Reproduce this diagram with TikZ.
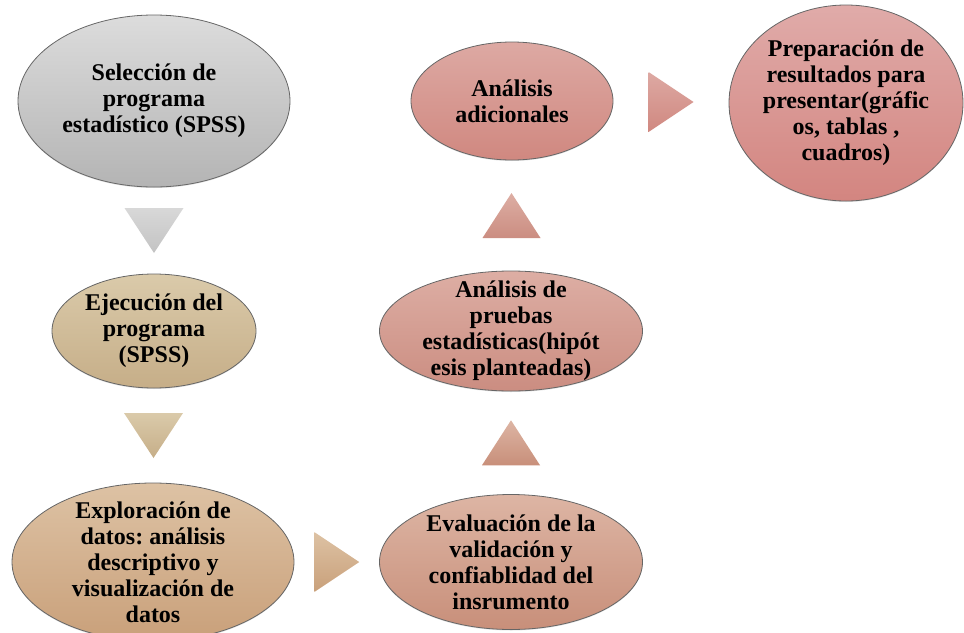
\documentclass[tikz,border=0pt]{standalone}
\usepackage{fontspec}
\setmainfont{Liberation Serif}
\frenchspacing
\usetikzlibrary{shapes.geometric,shadows}

\definecolor{grisA}{HTML}{DCDCDC}
\definecolor{grisB}{HTML}{B4B4B4}
\definecolor{ocreA}{HTML}{DACAAA}
\definecolor{ocreB}{HTML}{C6AE88}
\definecolor{arenaA}{HTML}{DDC2A4}
\definecolor{arenaB}{HTML}{C9A07A}
\definecolor{salmonA}{HTML}{DDB5A4}
\definecolor{salmonB}{HTML}{C88F7A}
\definecolor{rosaA}{HTML}{DDAEA4}
\definecolor{rosaB}{HTML}{CB8D81}
\definecolor{rojoA}{HTML}{DDA9A3}
\definecolor{rojoB}{HTML}{D08880}
\definecolor{rojoC}{HTML}{E0ABA9}
\definecolor{rojoD}{HTML}{D38580}

\tikzset{
  paso/.style={ellipse, draw=black!60, line width=.8pt, inner sep=0pt,
    drop shadow={shadow xshift=0pt, shadow yshift=-1pt, opacity=.25}},
  texto/.style={align=center, inner sep=0pt,
    font=\fontsize{24}{26}\selectfont\bfseries},
  pics/abajo/.style 2 args={code={
    \shade[top color=#1, bottom color=#2]
      (-29.5,-22.5) -- (29.5,-22.5) -- (0,22.5) -- cycle;}},
  pics/arriba/.style 2 args={code={
    \shade[top color=#1, bottom color=#2]
      (-29,22.5) -- (29,22.5) -- (0,-22.5) -- cycle;}},
  pics/derecha/.style 2 args={code={
    \shade[top color=#1, bottom color=#2]
      (-22.5,-30) -- (22.5,0) -- (-22.5,30) -- cycle;}}
}

\begin{document}
\begin{tikzpicture}[x=1pt, y=-1pt]
  \useasboundingbox (0,0) rectangle (964,632);

  % pasos
  \node[paso, top color=grisA, bottom color=grisB,
    minimum width=272, minimum height=172,
    label={[texto]center:{Selección de\\programa\\estadístico (SPSS)}}]
    (sel) at (154,101) {};
  \node[paso, top color=ocreA, bottom color=ocreB,
    minimum width=204, minimum height=114,
    label={[texto]center:{Ejecución del\\programa\\(SPSS)}}]
    (eje) at (154,331) {};
  \node[paso, top color=arenaA, bottom color=arenaB,
    minimum width=282, minimum height=158,
    label={[texto]center:{Exploración de\\datos: análisis\\descriptivo y\\visualización de\\datos}}]
    (exp) at (153,562) {};
  \node[paso, top color=salmonA, bottom color=salmonB,
    minimum width=263, minimum height=135,
    label={[texto]center:{Evaluación de la\\validación y\\confiablidad del\\insrumento}}]
    (eva) at (511,562) {};
  \node[paso, top color=rosaA, bottom color=rosaB,
    minimum width=263, minimum height=120,
    label={[texto]center:{Análisis de\\pruebas\\estadísticas(hipót\\esis planteadas)}}]
    (pru) at (511,331) {};
  \node[paso, top color=rojoA, bottom color=rojoB,
    minimum width=202, minimum height=118,
    label={[texto]center:{Análisis\\adicionales}}]
    (adi) at (512,101) {};
  \node[paso, top color=rojoC, bottom color=rojoD,
    minimum width=234, minimum height=196,
    label={[texto]center:{Preparación de\\resultados para\\presentar(gráfic\\os, tablas ,\\cuadros)}}]
    (pre) at (846,103) {};

  % flechas
  \path (sel.south) -- (eje.north) coordinate[pos=.5] (f1);
  \path (eje.south) -- (exp.north) coordinate[pos=.5] (f2);
  \path (exp.east) -- (eva.west) coordinate[pos=.5] (f3);
  \path (eva.north) -- (pru.south) coordinate[pos=.5] (f4);
  \path (pru.north) -- (adi.south) coordinate[pos=.5] (f5);
  \path (adi.east) -- (pre.west) coordinate[pos=.5] (f6);
  \pic at (f1) {abajo={grisA!90!grisB}{grisB!80!white}};
  \pic at (f2) {abajo={ocreA}{ocreB}};
  \pic at (f3) {derecha={arenaA}{arenaB}};
  \pic at (f4) {arriba={salmonA}{salmonB}};
  \pic at (f5) {arriba={rosaA}{rosaB}};
  \pic at (f6) {derecha={rojoA}{rojoB}};
\end{tikzpicture}
\end{document}
